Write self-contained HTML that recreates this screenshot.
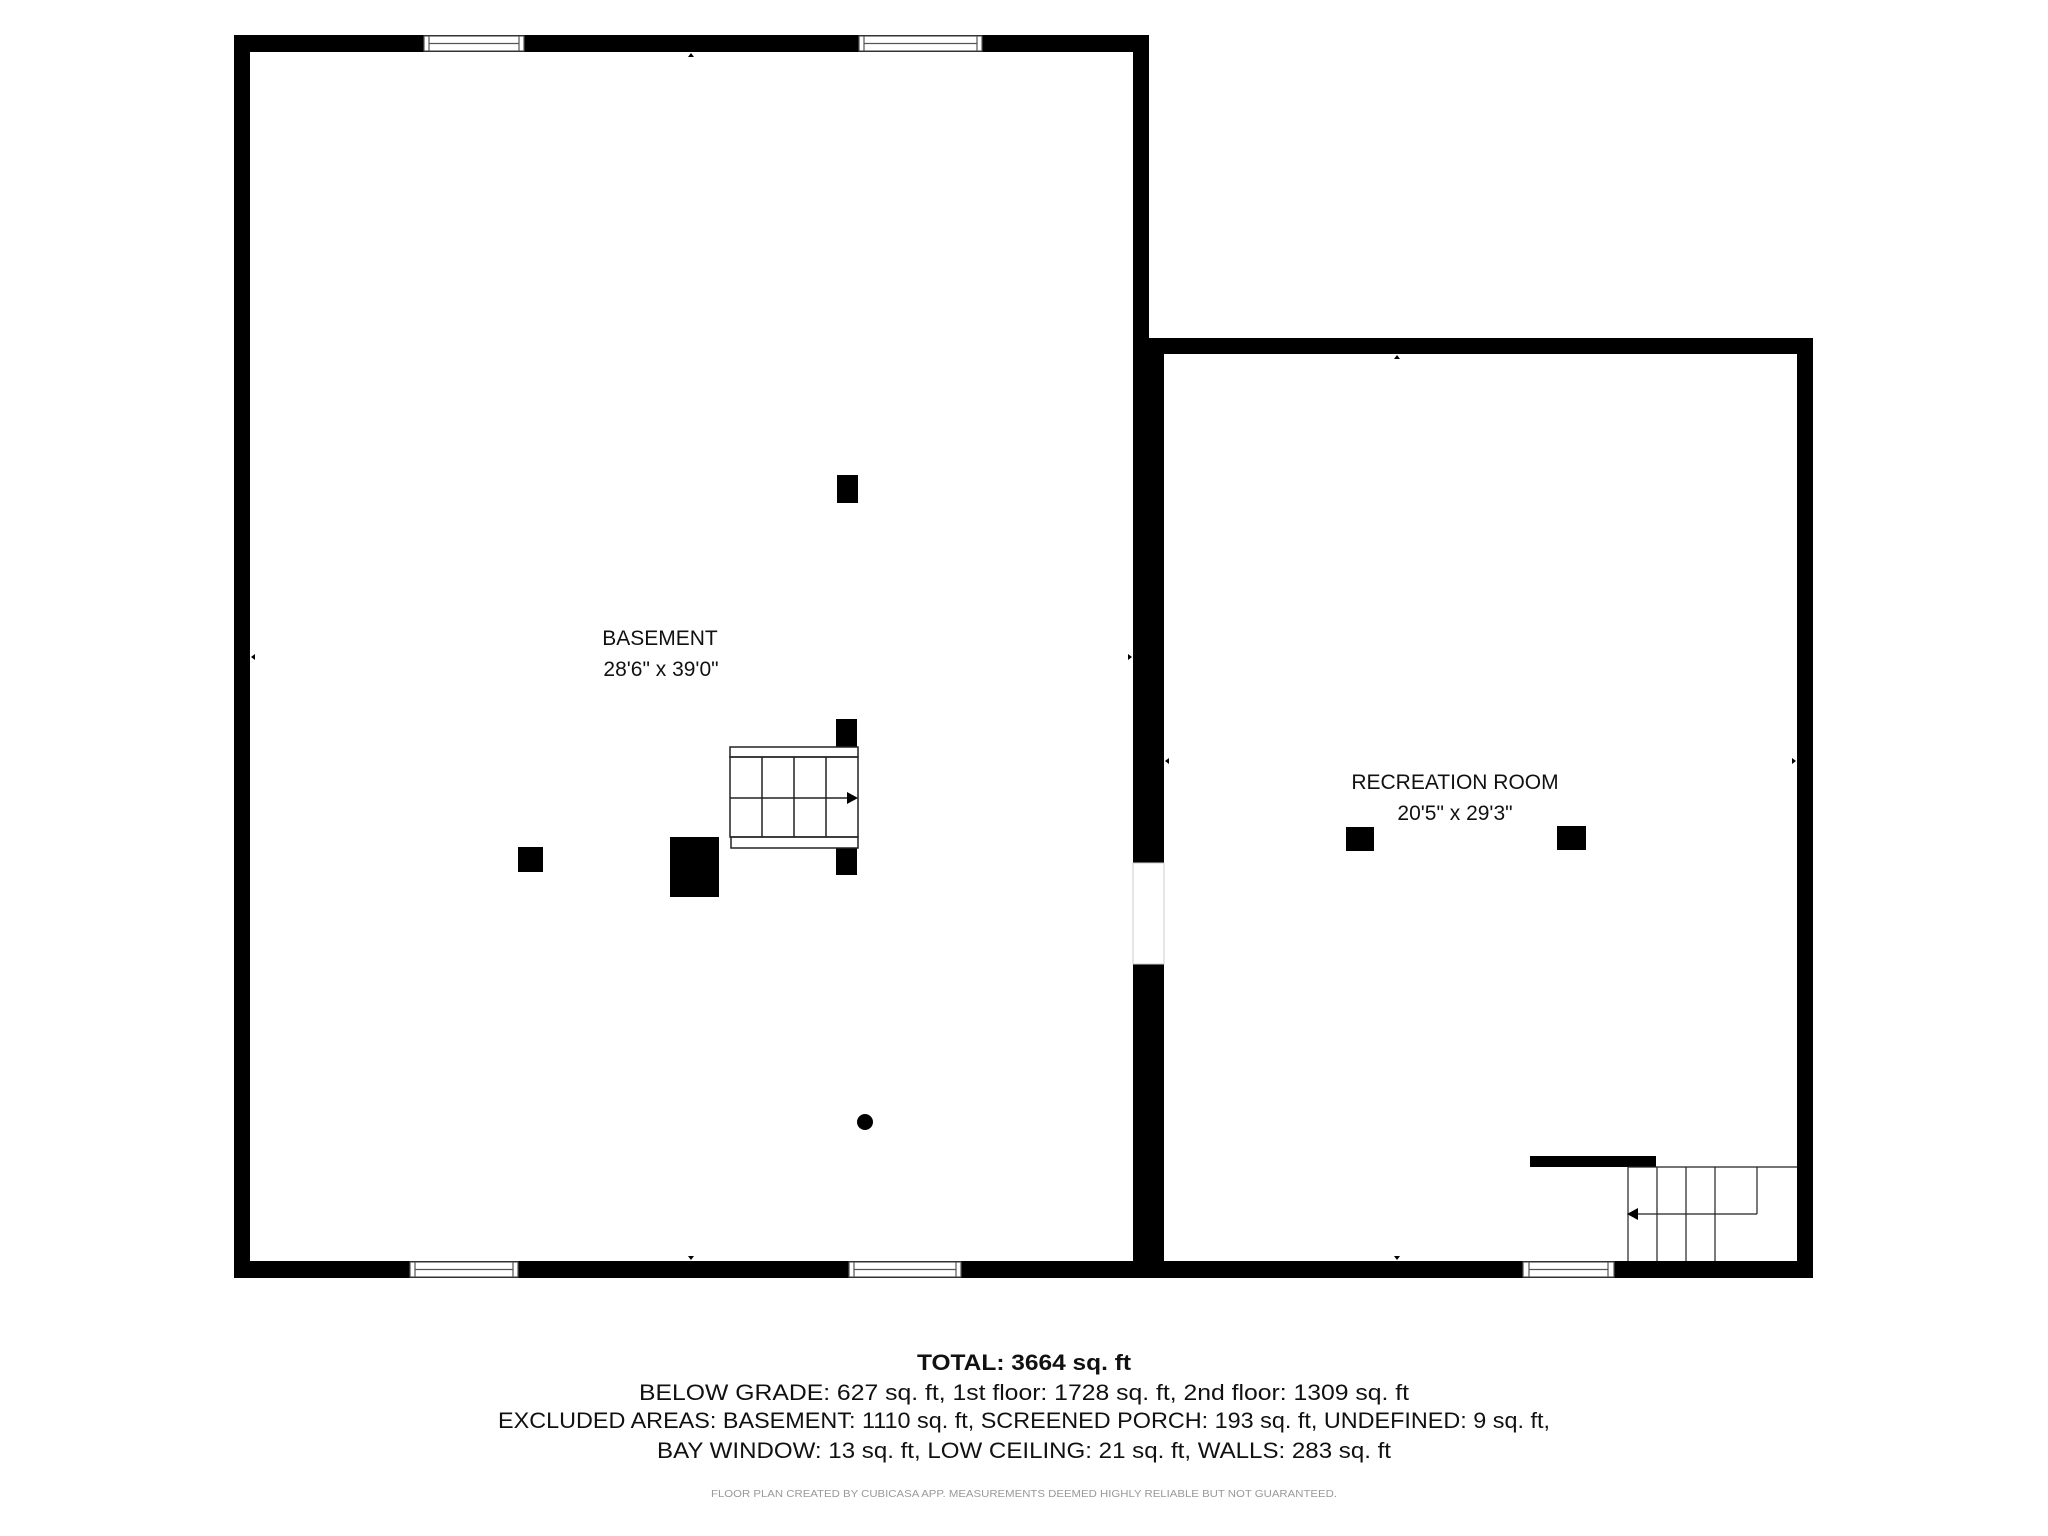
<!DOCTYPE html>
<html><head><meta charset="utf-8"><style>html,body{margin:0;padding:0;background:#fff}svg{display:block}</style></head>
<body>
<svg width="2048" height="1536" viewBox="0 0 2048 1536" xmlns="http://www.w3.org/2000/svg" font-family="'Liberation Sans', sans-serif">
<!-- Basement walls -->
<rect x="234" y="35" width="16" height="1243" fill="#000"/>
<rect x="234" y="35" width="915" height="17" fill="#000"/>
<rect x="1133" y="35" width="16" height="320" fill="#000"/>
<rect x="234" y="1261" width="1579" height="17" fill="#000"/>
<!-- divider -->
<rect x="1133" y="338" width="31" height="525" fill="#000"/>
<rect x="1133" y="964" width="31" height="300" fill="#000"/>
<rect x="1133" y="863" width="31" height="101" fill="#fff" stroke="#ccc" stroke-width="1"/>
<!-- rec room walls -->
<rect x="1133" y="338" width="680" height="16" fill="#000"/>
<rect x="1797" y="338" width="16" height="940" fill="#000"/>

<!-- windows -->
<g fill="#fff" stroke="#555" stroke-width="1.2">
<rect x="424" y="36" width="100" height="15"/><line x1="429" y1="36" x2="429" y2="51"/><line x1="519" y1="36" x2="519" y2="51"/><line x1="429" y1="43.5" x2="519" y2="43.5"/>
<rect x="859" y="36" width="123" height="15"/><line x1="864" y1="36" x2="864" y2="51"/><line x1="977" y1="36" x2="977" y2="51"/><line x1="864" y1="43.5" x2="977" y2="43.5"/>
<rect x="410" y="1262" width="108" height="15"/><line x1="415" y1="1262" x2="415" y2="1277"/><line x1="513" y1="1262" x2="513" y2="1277"/><line x1="415" y1="1269.5" x2="513" y2="1269.5"/>
<rect x="849" y="1262" width="112" height="15"/><line x1="854" y1="1262" x2="854" y2="1277"/><line x1="956" y1="1262" x2="956" y2="1277"/><line x1="854" y1="1269.5" x2="956" y2="1269.5"/>
<rect x="1523" y="1262" width="91" height="15"/><line x1="1529" y1="1262" x2="1529" y2="1277"/><line x1="1608" y1="1262" x2="1608" y2="1277"/><line x1="1529" y1="1269.5" x2="1608" y2="1269.5"/>
</g>

<!-- small triangles -->
<g fill="#000">
<polygon points="691,53 688,57 694,57"/>
<polygon points="691,1260 688,1256 694,1256"/>
<polygon points="251,657 255,654 255,660"/>
<polygon points="1132,657 1128,654 1128,660"/>
<polygon points="1397,355 1394,359 1400,359"/>
<polygon points="1397,1260 1394,1256 1400,1256"/>
<polygon points="1165,761 1169,758 1169,764"/>
<polygon points="1796,761 1792,758 1792,764"/>
</g>

<!-- basement objects -->
<g fill="#000">
<rect x="837" y="475" width="21" height="28"/>
<rect x="836" y="719" width="21" height="28"/>
<rect x="836" y="848" width="21" height="27"/>
<rect x="670" y="837" width="49" height="60"/>
<rect x="518" y="847" width="25" height="25"/>
<circle cx="865" cy="1122" r="8"/>
</g>
<g fill="none" stroke="#222" stroke-width="1.5">
<rect x="730" y="747" width="128" height="10"/>
<rect x="730" y="757" width="128" height="80"/>
<rect x="731" y="837" width="127" height="11"/>
<line x1="762" y1="757" x2="762" y2="837"/>
<line x1="794" y1="757" x2="794" y2="837"/>
<line x1="826" y1="757" x2="826" y2="837"/>
<line x1="730" y1="798" x2="848" y2="798"/>
</g>
<polygon points="858,798 847,792 847,804" fill="#000"/>

<!-- rec room objects -->
<g fill="#000">
<rect x="1346" y="827" width="28" height="24"/>
<rect x="1557" y="826" width="29" height="24"/>
<rect x="1530" y="1156" width="126" height="11"/>
</g>
<g fill="none" stroke="#222" stroke-width="1.2">
<line x1="1628" y1="1167" x2="1797" y2="1167"/>
<line x1="1628" y1="1167" x2="1628" y2="1261"/>
<line x1="1657" y1="1167" x2="1657" y2="1261"/>
<line x1="1686" y1="1167" x2="1686" y2="1261"/>
<line x1="1715" y1="1167" x2="1715" y2="1261"/>
<line x1="1757" y1="1167" x2="1757" y2="1214"/>
<line x1="1757" y1="1214" x2="1636" y2="1214"/>
</g>
<polygon points="1627,1214 1638,1208 1638,1220" fill="#000"/>

<!-- labels -->
<g fill="#111" font-size="21" text-anchor="middle">
<text x="660" y="645">BASEMENT</text>
<text x="661" y="676">28'6" x 39'0"</text>
<text x="1455" y="789">RECREATION ROOM</text>
<text x="1455" y="820">20'5" x 29'3"</text>
</g>
<g fill="#111" font-size="22" text-anchor="middle">
<text x="1024" y="1370" font-weight="bold" textLength="214" lengthAdjust="spacingAndGlyphs">TOTAL: 3664 sq. ft</text>
<text x="1024" y="1400" textLength="770" lengthAdjust="spacingAndGlyphs">BELOW GRADE: 627 sq. ft, 1st floor: 1728 sq. ft, 2nd floor: 1309 sq. ft</text>
<text x="1024" y="1428" textLength="1052" lengthAdjust="spacingAndGlyphs">EXCLUDED AREAS: BASEMENT: 1110 sq. ft, SCREENED PORCH: 193 sq. ft, UNDEFINED: 9 sq. ft,</text>
<text x="1024" y="1458" textLength="734" lengthAdjust="spacingAndGlyphs">BAY WINDOW: 13 sq. ft, LOW CEILING: 21 sq. ft, WALLS: 283 sq. ft</text>
</g>
<text x="1024" y="1497" font-size="10" fill="#999" text-anchor="middle" textLength="626" lengthAdjust="spacingAndGlyphs">FLOOR PLAN CREATED BY CUBICASA APP. MEASUREMENTS DEEMED HIGHLY RELIABLE BUT NOT GUARANTEED.</text>
</svg>
</body></html>
